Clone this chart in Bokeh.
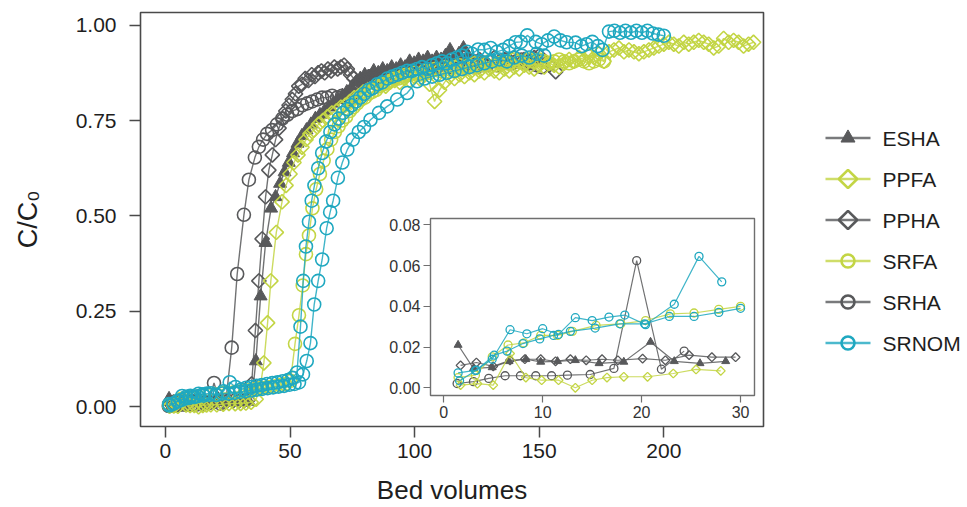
import math
from bokeh.plotting import figure
from bokeh.models import Range1d, FixedTicker, NumeralTickFormatter
from bokeh.core.properties import value
from bokeh.embed import file_html
from bokeh.resources import INLINE

# ---------------- data (bed volumes, C/C0) ----------------
esha_bv = [1.45, 3.0, 4.9, 6.6, 8.3, 9.8, 11.5, 13.3, 15.7, 18.2,
           20.9, 23.3, 25.9, 28.5, 31.0, 33.4,
           35.0, 36.3, 38.2, 40.2, 42.4, 44.2, 46.0, 47.8, 49.5, 51.2,
           53.0, 54.8, 56.6, 58.4, 60.2, 62.0, 63.8, 65.6, 67.4, 69.2,
           71.0, 72.8, 74.6, 76.4, 78.2, 80.0, 81.8, 83.6, 85.4, 87.2,
           89.0, 90.8, 92.6, 94.4, 96.2, 98.0, 99.8, 101.6, 103.4, 105.2,
           107.0, 108.8, 110.6, 112.4, 114.2, 116.0, 117.8, 119.6, 121.4]
esha_c = [0.021, 0.0095, 0.010, 0.013, 0.014, 0.0127, 0.013, 0.0135, 0.012, 0.0127,
          0.0225, 0.013, 0.012, 0.013, 0.013, 0.014,
          0.04, 0.12, 0.29, 0.43, 0.52, 0.55, 0.585, 0.615, 0.64, 0.665,
          0.69, 0.71, 0.725, 0.74, 0.755, 0.765, 0.775, 0.785, 0.795, 0.805,
          0.815, 0.825, 0.835, 0.85, 0.86, 0.87, 0.865, 0.88, 0.875, 0.885,
          0.88, 0.89, 0.885, 0.895, 0.89, 0.905, 0.90, 0.91, 0.905, 0.915,
          0.905, 0.915, 0.91, 0.92, 0.935, 0.915, 0.925, 0.94, 0.92]

ppha_bv = [1.7, 3.3, 5.0, 6.7, 8.2, 9.8, 11.3, 12.8, 14.4, 16.0,
           17.6, 20.1, 22.4, 24.8, 27.1, 29.5, 31.5, 33.2, 34.6, 36.1,
           37.5, 38.8, 40.2, 41.5, 42.9, 44.2, 45.6, 47.0, 48.3, 49.6,
           50.9, 52.2, 53.5, 54.8, 56.1, 57.4, 58.7, 60.0, 61.3, 62.6,
           63.9, 65.2, 66.5, 67.8, 69.1, 70.4, 71.7, 73.0, 74.3, 75.6,
           76.9, 78.2, 79.8, 81.5, 83.2, 85.0, 86.8, 88.6, 90.4, 92.2,
           94.0, 96.0, 98.0, 100.0, 102.0, 104.0, 106.0, 108.0, 110.0, 112.0,
           114.0, 116.0, 118.0, 120.0, 122.0, 124.0, 126.0, 128.0, 130.0, 132.0,
           134.0, 136.0, 138.0, 140.0, 142.0, 144.0, 146.0, 148.0, 150.0, 152.0,
           154.0, 156.6]
ppha_c = [0.011, 0.0124, 0.0105, 0.0135, 0.014, 0.014, 0.013, 0.014, 0.0135, 0.014,
          0.0135, 0.0143, 0.0135, 0.016, 0.015, 0.015, 0.016, 0.018, 0.06, 0.20,
          0.33, 0.44, 0.55, 0.62, 0.66, 0.70, 0.73, 0.755, 0.775, 0.79,
          0.805, 0.82, 0.84, 0.845, 0.86, 0.855, 0.87, 0.865, 0.875, 0.88,
          0.875, 0.885, 0.88, 0.89, 0.885, 0.89, 0.895, 0.885, 0.87, 0.86,
          0.85, 0.855, 0.86, 0.865, 0.87, 0.865, 0.875, 0.87, 0.88, 0.875,
          0.885, 0.88, 0.89, 0.885, 0.895, 0.89, 0.90, 0.895, 0.905, 0.895,
          0.90, 0.91, 0.90, 0.905, 0.895, 0.905, 0.91, 0.90, 0.905, 0.915,
          0.905, 0.91, 0.90, 0.915, 0.905, 0.91, 0.90, 0.915, 0.92, 0.905,
          0.895, 0.878]

srha_bv = [1.35, 3.0, 4.55, 6.2, 7.75, 9.3, 10.9, 12.5, 14.8, 17.2,
           19.5, 22.0, 24.3, 26.6, 28.8, 31.5, 33.5, 35.9, 37.5, 39.2,
           40.8, 42.8, 44.8, 46.9, 48.9, 50.9, 52.9, 54.9, 56.9, 58.9,
           60.9, 62.9, 64.9, 66.9, 68.9, 70.9, 72.9, 74.9, 76.9, 78.9,
           80.9, 82.9, 84.9, 86.9, 88.9, 90.9, 92.9, 94.9, 96.9, 98.9,
           100.9, 102.9, 104.9, 106.9, 108.9, 110.9, 112.9, 114.9, 116.9, 118.9,
           120.9, 122.9, 124.9, 126.9, 128.9, 130.9, 132.9, 134.9, 136.9, 138.9,
           140.9, 142.9, 144.9, 146.9, 148.9, 150.9]
srha_c = [0.0021, 0.003, 0.0046, 0.0059, 0.0059, 0.0059, 0.0059, 0.0062, 0.0065, 0.0095,
          0.0624, 0.0091, 0.018, 0.155, 0.348, 0.503, 0.595, 0.653, 0.681, 0.70,
          0.715, 0.725, 0.74, 0.755, 0.765, 0.775, 0.78, 0.79, 0.795, 0.80,
          0.805, 0.81, 0.81, 0.815, 0.81, 0.815, 0.805, 0.82, 0.84, 0.85,
          0.855, 0.86, 0.855, 0.865, 0.86, 0.87, 0.865, 0.875, 0.87, 0.88,
          0.875, 0.885, 0.88, 0.885, 0.89, 0.885, 0.895, 0.89, 0.895, 0.885,
          0.895, 0.90, 0.89, 0.90, 0.895, 0.905, 0.895, 0.90, 0.91, 0.90,
          0.905, 0.91, 0.90, 0.905, 0.895, 0.89]

ppfa_bv = [1.7, 3.4, 5.0, 6.7, 8.3, 9.9, 11.6, 13.3, 15.0, 16.5,
           18.2, 20.6, 23.2, 25.5, 28.0,
           30.2, 32.3, 34.4, 36.4, 38.0, 39.5, 41.0, 42.3, 44.5, 46.8,
           48.4, 50.0, 51.6, 53.2, 54.8, 56.4, 58.0, 59.6, 61.4, 63.2,
           65.0, 66.8, 68.6, 70.4, 72.2, 74.0, 75.8, 77.6, 79.4, 81.2,
           83.0, 84.8, 86.6, 88.4, 90.2, 92.0, 94.0, 96.0, 98.0, 100.0,
           102.0, 104.0, 106.0, 108.0, 110.0, 112.0, 114.0, 116.0, 118.0, 120.0,
           122.0, 124.0, 126.0, 128.0, 130.0, 132.0, 134.0, 136.0, 138.0, 140.0,
           142.0, 144.0, 146.0, 148.0, 150.0, 152.0, 154.0, 156.0, 158.0, 160.0,
           162.0, 164.0, 166.0, 168.0, 170.0, 172.0, 174.0, 176.0, 178.0, 180.0,
           182.0, 184.0, 186.0, 188.0, 190.0, 192.0, 194.0, 196.0, 198.0, 200.0,
           202.0, 204.0, 206.0, 208.0, 210.0, 212.0, 214.0, 216.0, 218.0, 220.0,
           222.0, 224.0, 226.0, 228.0, 230.0, 232.0, 234.0, 236.0]
ppfa_c = [0.0013, 0.002, 0.0013, 0.0168, 0.005, 0.0037, 0.0037, 0.0, 0.0037, 0.005,
          0.0054, 0.0054, 0.007, 0.009, 0.0083,
          0.009, 0.010, 0.012, 0.02, 0.05, 0.115, 0.22, 0.33, 0.457, 0.537,
          0.58, 0.61, 0.64, 0.66, 0.68, 0.70, 0.715, 0.725, 0.74, 0.75,
          0.76, 0.77, 0.775, 0.785, 0.79, 0.80, 0.81, 0.815, 0.825, 0.83,
          0.835, 0.84, 0.845, 0.84, 0.85, 0.855, 0.85, 0.86, 0.855, 0.865,
          0.86, 0.87, 0.845, 0.80, 0.83, 0.85, 0.865, 0.86, 0.87, 0.865,
          0.875, 0.87, 0.88, 0.875, 0.885, 0.88, 0.875, 0.885, 0.88, 0.89,
          0.885, 0.895, 0.89, 0.885, 0.895, 0.89, 0.90, 0.895, 0.89, 0.90,
          0.91, 0.905, 0.915, 0.91, 0.92, 0.915, 0.925, 0.905, 0.93, 0.935,
          0.94, 0.93, 0.935, 0.93, 0.925, 0.93, 0.935, 0.94, 0.945, 0.95,
          0.955, 0.95, 0.945, 0.955, 0.95, 0.955, 0.96, 0.955, 0.95, 0.94,
          0.945, 0.965, 0.955, 0.96, 0.955, 0.945, 0.95, 0.955]

srfa_bv = [1.45, 3.2, 4.9, 6.5, 8.1, 9.8, 11.5, 13.0, 15.4, 17.9,
           20.4, 22.9, 25.3, 27.8, 30.0, 32.0, 34.0, 36.0, 38.0, 40.0,
           42.0, 44.0, 46.0, 48.0, 50.2, 52.0, 53.6, 55.1, 56.4, 57.6,
           59.0, 60.5, 62.0, 63.5, 65.0, 66.5, 68.0, 69.5, 71.0, 72.5,
           74.0, 75.5, 77.0, 78.5, 80.0, 81.5, 83.0, 84.5, 86.0, 87.5,
           89.0, 90.5, 92.0, 93.5, 95.0, 96.5, 98.0, 100.0, 102.0, 104.0,
           106.0, 108.0, 110.0, 112.0, 114.0, 116.0, 118.0, 120.0, 122.0, 124.0,
           126.0, 128.0, 130.0, 132.0, 134.0, 136.0, 138.0, 140.0, 142.0, 144.0,
           146.0, 148.0, 150.0, 152.0, 154.0, 156.0, 158.0, 160.0, 162.0, 164.0,
           166.0, 168.0, 170.0, 172.0, 174.0, 176.0]
srfa_c = [0.005, 0.0062, 0.0152, 0.021, 0.022, 0.0257, 0.0257, 0.0277, 0.0306, 0.0314,
          0.033, 0.0363, 0.0367, 0.0385, 0.040, 0.042, 0.044, 0.046, 0.048, 0.050,
          0.052, 0.054, 0.057, 0.060, 0.068, 0.165, 0.24, 0.318, 0.40, 0.449,
          0.52, 0.57, 0.61, 0.645, 0.675, 0.70, 0.72, 0.735, 0.75, 0.76,
          0.775, 0.785, 0.795, 0.805, 0.81, 0.82, 0.825, 0.83, 0.84, 0.845,
          0.85, 0.855, 0.86, 0.86, 0.865, 0.87, 0.87, 0.875, 0.87, 0.88,
          0.875, 0.885, 0.88, 0.89, 0.885, 0.89, 0.895, 0.89, 0.895, 0.90,
          0.895, 0.90, 0.905, 0.895, 0.90, 0.905, 0.90, 0.91, 0.905, 0.90,
          0.91, 0.905, 0.91, 0.905, 0.90, 0.905, 0.91, 0.905, 0.90, 0.905,
          0.91, 0.905, 0.90, 0.905, 0.91, 0.905]

srnom_a_bv = [1.45, 3.2, 4.9, 6.7, 8.4, 10.0, 11.6, 13.3, 15.0, 16.7,
              18.3, 20.4, 23.3, 25.8, 28.1, 30.3, 32.4, 34.5, 36.6, 38.7,
              40.8, 42.9, 45.0, 47.1, 49.2, 51.0, 52.8, 54.2, 55.3, 56.4,
              57.6, 58.7, 59.8, 61.3, 62.9, 64.5, 66.2, 67.9, 69.6, 71.3,
              73.0, 74.7, 76.4, 78.1, 79.8, 81.5, 83.2, 85.0, 87.0, 89.0,
              91.0, 93.0, 95.0, 97.0, 99.0, 101.0, 103.0, 105.0, 107.0, 109.0,
              111.0, 113.0, 115.0, 117.0, 119.0, 121.0, 123.0, 125.5, 128.0, 130.5,
              133.0, 135.5, 138.0, 140.5, 142.6, 145.2, 148.6, 151.0, 153.5, 156.0,
              158.5, 161.0, 164.6, 167.0, 169.0, 171.3, 173.5, 175.4, 178.0, 180.2,
              182.4, 184.6, 186.8, 189.0, 191.2, 193.4, 195.6, 197.8, 200.0]
srnom_a_c = [0.0073, 0.0085, 0.014, 0.0285, 0.0265, 0.029, 0.0262, 0.0344, 0.033, 0.0347,
             0.0357, 0.031, 0.041, 0.0645, 0.052, 0.045, 0.050, 0.052, 0.055, 0.057,
             0.060, 0.062, 0.064, 0.067, 0.070, 0.076, 0.090, 0.21, 0.33, 0.42,
             0.485, 0.54, 0.58, 0.625, 0.665, 0.695, 0.72, 0.74, 0.755, 0.77,
             0.78, 0.79, 0.80, 0.81, 0.82, 0.83, 0.835, 0.845, 0.85, 0.86,
             0.865, 0.87, 0.875, 0.88, 0.88, 0.885, 0.89, 0.885, 0.895, 0.90,
             0.905, 0.90, 0.91, 0.915, 0.92, 0.93, 0.925, 0.936, 0.935, 0.94,
             0.93, 0.935, 0.945, 0.955, 0.956, 0.973, 0.956, 0.95, 0.96, 0.97,
             0.96, 0.955, 0.954, 0.945, 0.95, 0.956, 0.945, 0.935, 0.983, 0.985,
             0.98, 0.985, 0.98, 0.985, 0.98, 0.985, 0.978, 0.975, 0.972]

srnom_b_bv = [1.6, 3.3, 5.1, 6.4, 8.0, 9.7, 11.1, 12.8, 15.3, 17.8,
              20.3, 22.8, 25.3, 27.8, 30.0, 32.2, 34.4, 36.6, 38.8, 41.0,
              43.2, 45.4, 47.6, 49.8, 51.8, 53.6, 55.2, 56.7, 58.2, 59.7,
              61.3, 62.9, 64.7, 66.1, 67.3, 69.2, 71.0, 73.0, 75.2, 77.6,
              79.7, 82.3, 85.7, 89.0, 93.0, 97.0, 101.0, 104.0, 107.0, 110.0,
              113.0, 116.0, 119.0, 122.0, 125.0, 128.0, 131.0, 134.0, 137.0, 140.0,
              143.0, 146.0, 149.0, 152.0]
srnom_b_c = [0.0034, 0.0086, 0.016, 0.018, 0.0217, 0.024, 0.0257, 0.0277, 0.0293, 0.0314,
             0.0314, 0.035, 0.035, 0.037, 0.039, 0.041, 0.043, 0.045, 0.047, 0.049,
             0.051, 0.053, 0.055, 0.058, 0.060, 0.064, 0.085, 0.12, 0.167, 0.268,
             0.33, 0.386, 0.468, 0.51, 0.54, 0.60, 0.64, 0.674, 0.70, 0.72,
             0.733, 0.752, 0.77, 0.787, 0.805, 0.822, 0.853, 0.86, 0.865, 0.87,
             0.875, 0.88, 0.885, 0.89, 0.895, 0.90, 0.905, 0.91, 0.905, 0.915,
             0.92, 0.915, 0.925, 0.92]

legend_order = ["ESHA", "PPFA", "PPHA", "SRFA", "SRHA", "SRNOM"]
main_x_ticks = [0, 50, 100, 150, 200]
main_y_ticks = [0.0, 0.25, 0.5, 0.75, 1.0]
inset_x_ticks = [0, 10, 20, 30]
inset_y_ticks = [0.0, 0.02, 0.04, 0.06, 0.08]

# ---------------- styling ----------------
GREY = "#58595b"
LIME = "#c3d544"
TEAL = "#1fa8c0"
FONT = "Liberation Sans"
TXT = "#1e1e1e"

style_of = {
    "ESHA": (GREY, "triangle"),
    "PPHA": (GREY, "diamond"),
    "SRHA": (GREY, "circle"),
    "PPFA": (LIME, "diamond"),
    "SRFA": (LIME, "circle"),
    "SRNOM": (TEAL, "circle"),
}
series = [
    ("ESHA", esha_bv, esha_c),
    ("PPHA", ppha_bv, ppha_c),
    ("SRHA", srha_bv, srha_c),
    ("PPFA", ppfa_bv, ppfa_c),
    ("SRFA", srfa_bv, srfa_c),
    ("SRNOM", srnom_b_bv, srnom_b_c),
    ("SRNOM", srnom_a_bv, srnom_a_c),
]
for name, xs, ys in series:
    assert len(xs) == len(ys), (name, len(xs), len(ys))


def draw_markers(fig, xs, ys, color, marker, msize, mlw):
    if marker == "triangle":
        fig.scatter(xs, ys, marker="triangle", size=msize, fill_color=color,
                    line_color=color, line_width=1)
    elif marker == "diamond":
        fig.scatter(xs, ys, marker="square", angle=math.pi / 4, size=msize * 0.78,
                    fill_color=None, line_color=color, line_width=mlw)
    else:
        fig.scatter(xs, ys, marker="circle", size=msize, fill_color=None,
                    line_color=color, line_width=mlw)


def style_axes(fig, tick_font, tick_len, standoff):
    fig.grid.visible = False
    for ax in fig.axis:
        ax.axis_line_color = None
        ax.major_tick_in = 0
        ax.major_tick_out = tick_len
        ax.minor_tick_line_color = None
        ax.major_tick_line_color = "#4a4a4a"
        ax.major_tick_line_width = 1.5
        ax.major_label_text_font = FONT
        ax.major_label_text_font_size = tick_font
        ax.major_label_text_color = TXT
        ax.axis_label_text_font = FONT
        ax.axis_label_text_font_style = "normal"
        ax.axis_label_text_color = TXT
    fig.xaxis.major_label_standoff = standoff[0]
    fig.yaxis.major_label_standoff = standoff[1]


# ---------------- main figure ----------------
p = figure(width=967, height=507, x_range=Range1d(-10, 240), y_range=Range1d(-0.0515, 1.033),
           output_backend="svg", toolbar_location=None,
           min_border_left=140, min_border_right=204, min_border_top=12, min_border_bottom=80)
p.outline_line_color = "#4a4a4a"
p.outline_line_width = 1.6
p.background_fill_color = "white"
p.border_fill_color = "white"

for name, xs, ys in series:
    color, marker = style_of[name]
    p.line(xs, ys, line_color=color, line_width=1.4, line_alpha=0.85)
    draw_markers(p, xs, ys, color, marker, 13, 1.6)

style_axes(p, "21px", 11, (6, 13))
p.xaxis.ticker = FixedTicker(ticks=main_x_ticks)
p.yaxis.ticker = FixedTicker(ticks=main_y_ticks)
p.yaxis.formatter = NumeralTickFormatter(format="0.00")
p.xaxis.axis_label = "Bed volumes"
p.yaxis.axis_label = "C/C\u2080"
p.xaxis.axis_label_text_font_size = "26px"
p.yaxis.axis_label_text_font_size = "27px"
p.xaxis.axis_label_text_line_height = 1.0
p.xaxis.axis_label_standoff = 14
p.yaxis.axis_label_standoff = 30

# ---------------- inset ----------------
inset = figure(width=380, height=215, x_range=Range1d(-1.34, 31.41), y_range=Range1d(-0.0038, 0.0831),
               output_backend="svg", toolbar_location=None,
               min_border_left=50, min_border_right=6, min_border_top=6, min_border_bottom=32)
inset.outline_line_color = "#6f6f6f"
inset.outline_line_width = 1.4
inset.background_fill_color = "white"
inset.border_fill_alpha = 0
inset.styles = {"position": "absolute", "left": "380px", "top": "212px"}

for name, xs, ys in series:
    color, marker = style_of[name]
    sel = [(x, y) for x, y in zip(xs, ys) if x <= 30 and y <= 0.07]
    sx = [s[0] for s in sel]
    sy = [s[1] for s in sel]
    inset.line(sx, sy, line_color=color, line_width=1.2, line_alpha=0.85)
    draw_markers(inset, sx, sy, color, marker, 8, 1.3)

style_axes(inset, "16px", 7, (3, 3))
inset.xaxis.ticker = FixedTicker(ticks=inset_x_ticks)
inset.yaxis.ticker = FixedTicker(ticks=inset_y_ticks)
inset.yaxis.formatter = NumeralTickFormatter(format="0.00")
for ax in inset.axis:
    ax.major_tick_line_color = "#6f6f6f"
    ax.major_tick_line_width = 1.2
    ax.major_label_text_color = "#333333"

# ---------------- legend (its own small panel, one row per entry) ----------------
n_items = len(legend_order)
leg = figure(width=147, height=246, x_range=Range1d(-0.111, 3.156),
             y_range=Range1d(-0.5, n_items - 0.5),
             x_axis_type=None, y_axis_type=None, output_backend="svg",
             toolbar_location=None, min_border=0)
leg.outline_line_color = None
leg.grid.visible = False
leg.background_fill_alpha = 0
leg.border_fill_alpha = 0
leg.styles = {"position": "absolute", "left": "820px", "top": "117px"}

rows = [n_items - 1 - i for i in range(n_items)]
for name, row in zip(legend_order, rows):
    color, marker = style_of[name]
    leg.segment(x0=[0], y0=[row], x1=[1], y1=[row], line_color=color, line_width=2.6, line_alpha=0.8)
    if marker == "triangle":
        leg.scatter([0.5], [row], marker="triangle", size=14, fill_color=color, line_color=color)
    elif marker == "diamond":
        leg.scatter([0.5], [row], marker="square", angle=math.pi / 4, size=13,
                    fill_color=None, line_color=color, line_width=2.6)
    else:
        leg.scatter([0.5], [row], marker="circle", size=13, fill_color=None,
                    line_color=color, line_width=2.6)
leg.text(x=[1.267] * n_items, y=rows, text=legend_order, text_font=value(FONT),
         text_font_size="21px", text_color=TXT, text_baseline="middle", text_align="left")

open("out.html", "w").write(file_html([p, inset, leg], INLINE))
